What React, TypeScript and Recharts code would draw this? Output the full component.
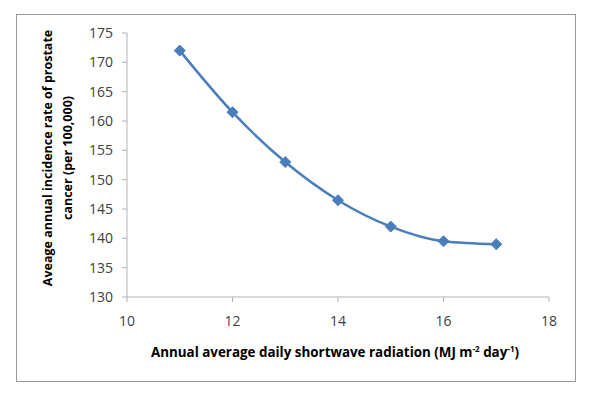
import React from "react";
import { LineChart, Line, XAxis, YAxis, Label } from "recharts";

const radiation = [11, 12, 13, 14, 15, 16, 17];
const incidence = [172, 161.5, 153, 146.5, 142, 139.5, 139];
const xTicks = [10, 12, 14, 16, 18];
const yTicks = [130, 135, 140, 145, 150, 155, 160, 165, 170, 175];

const data = radiation.map((x, i) => ({ x, y: incidence[i] }));

const FONT = "'Open Sans', 'Noto Sans', sans-serif";
const AXIS = "#b3b3b3";
const TEXT = "#404040";
const BLUE = "#4a7ebb";

const Diamond = (props: any) => {
  const { cx, cy } = props;
  if (cx == null || cy == null) return null;
  const r = 5.5;
  return (
    <path
      d={`M${cx},${cy - r} L${cx + r},${cy} L${cx},${cy + r} L${cx - r},${cy} Z`}
      fill={BLUE}
      stroke={BLUE}
      strokeWidth={1}
    />
  );
};

const YTitle = (props: any) => {
  const vb = props.viewBox || {};
  const cy = vb.y + vb.height / 2 - 7;
  return (
    <text
      transform={`rotate(-90, 48, ${cy})`}
      x={48}
      y={cy}
      textAnchor="middle"
      fontFamily={FONT}
      fontWeight="bold"
      fontSize={12.5}
      fill="#000"
    >
      <tspan x={48} dy={4}>Aveage annual incidence rate of prostate</tspan>
      <tspan x={48} dy={20}>cancer (per 100,000)</tspan>
    </text>
  );
};

const XTitle = (props: any) => {
  const vb = props.viewBox || {};
  const cx = vb.x + vb.width / 2 - 3;
  return (
    <text
      x={cx}
      y={357}
      textAnchor="middle"
      fontFamily={FONT}
      fontWeight="bold"
      fontSize={13.4}
      fill="#000"
    >
      Annual average daily shortwave radiation (MJ m
      <tspan fontSize={8} dy={-5}>-2</tspan>
      <tspan dy={5}> day</tspan>
      <tspan fontSize={8} dy={-5}>-1</tspan>
      <tspan dy={5}>)</tspan>
    </text>
  );
};

export default function App() {
  return (
    <div style={{ position: "absolute", left: 0, top: 0, width: 600, height: 400, background: "#fff" }}>
      <div
        style={{
          position: "absolute",
          left: 16,
          top: 14,
          width: 558,
          height: 366,
          border: "1px solid #999",
        }}
      />
      <div style={{ position: "absolute", left: 0, top: 0 }}>
        <LineChart
          width={600}
          height={400}
          data={data}
          margin={{ top: 33, right: 51, bottom: 63, left: 67 }}
        >
          <XAxis
            dataKey="x"
            type="number"
            domain={[10, 18]}
            ticks={xTicks}
            height={40}
            axisLine={{ stroke: AXIS }}
            tickLine={{ stroke: AXIS }}
            tickSize={5}
            tick={{ fill: TEXT, fontFamily: FONT, fontSize: 14 }}
            tickMargin={14}
          >
            <Label content={<XTitle />} />
          </XAxis>
          <YAxis
            type="number"
            domain={[130, 175]}
            ticks={yTicks}
            width={60}
            axisLine={{ stroke: AXIS }}
            tickLine={{ stroke: AXIS }}
            tickSize={5}
            tick={{ fill: TEXT, fontFamily: FONT, fontSize: 14 }}
            tickMargin={9}
            interval={0}
          >
            <Label content={<YTitle />} />
          </YAxis>
          <Line
            type="monotone"
            dataKey="y"
            stroke={BLUE}
            strokeWidth={2.5}
            dot={<Diamond />}
            activeDot={false}
            isAnimationActive={false}
          />
        </LineChart>
      </div>
    </div>
  );
}
